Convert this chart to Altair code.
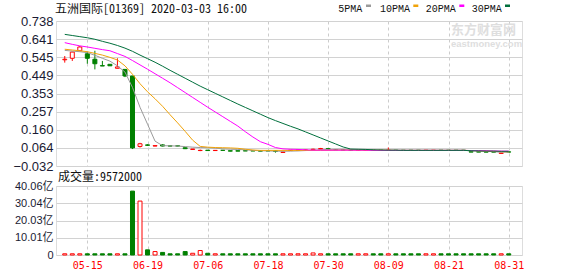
import altair as alt
import pandas as pd

# ---------------- data ----------------
title_text = "五洲国际[01369] 2020-03-03 16:00"
volume_text = "成交量:9572000"
ma_names = ["5PMA", "10PMA", "20PMA", "30PMA"]
ma_colors = ["#9a9a9a", "#f0a30a", "#ff00ff", "#006f3c"]

tick_idx = [3, 11, 19, 27, 35, 43, 51, 59]
tick_labels = ["05-15", "06-19", "07-06", "07-18", "07-30", "08-09", "08-21", "08-31"]
price_ticks = [-0.032, 0.064, 0.160, 0.257, 0.353, 0.449, 0.545, 0.641, 0.738]
vol_ticks = [0, 10.01, 20.03, 30.04, 40.06]

open_ = [0.532, 0.540, 0.580, 0.564, 0.535, 0.501, 0.508, 0.487, 0.481, 0.446,
         0.072, 0.080, 0.074, 0.080, 0.075, 0.075, 0.065, 0.056, 0.050, 0.052,
         0.050, 0.0515, 0.049, 0.049, 0.049, 0.049, 0.049, 0.049, 0.048, 0.040,
         0.050, 0.052, 0.052, 0.054, 0.057, 0.060, 0.055, 0.054, 0.053, 0.051,
         0.051, 0.052, 0.052, 0.051, 0.0515, 0.0515, 0.0515, 0.0515, 0.051, 0.051,
         0.0515, 0.0515, 0.0515, 0.0515, 0.044, 0.044, 0.043, 0.0425, 0.035, 0.043]
close = [0.535, 0.573, 0.600, 0.540, 0.511, 0.499, 0.500, 0.494, 0.446, 0.064,
         0.086, 0.078, 0.076, 0.074, 0.074, 0.074, 0.060, 0.058, 0.051, 0.050,
         0.051, 0.051, 0.047, 0.047, 0.048, 0.048, 0.047, 0.048, 0.046, 0.042,
         0.052, 0.0525, 0.053, 0.057, 0.061, 0.057, 0.054, 0.053, 0.052, 0.052,
         0.052, 0.051, 0.051, 0.052, 0.051, 0.051, 0.051, 0.051, 0.0515, 0.0515,
         0.051, 0.051, 0.051, 0.051, 0.042, 0.042, 0.042, 0.042, 0.037, 0.042]
high = [0.552, 0.575, 0.605, 0.575, 0.580, 0.526, 0.508, 0.540, 0.483, 0.446,
        0.091, 0.083, 0.079, 0.083, 0.076, 0.075, 0.066, 0.058, 0.055, 0.053,
        0.052, 0.0515, 0.049, 0.049, 0.049, 0.049, 0.049, 0.049, 0.048, 0.043,
        0.052, 0.053, 0.054, 0.060, 0.064, 0.064, 0.056, 0.054, 0.053, 0.052,
        0.052, 0.052, 0.052, 0.066, 0.0515, 0.0515, 0.0515, 0.0515, 0.0515, 0.0515,
        0.0515, 0.0515, 0.0515, 0.0515, 0.044, 0.044, 0.043, 0.0425, 0.037, 0.043]
low = [0.517, 0.526, 0.578, 0.511, 0.481, 0.499, 0.500, 0.487, 0.440, 0.058,
       0.066, 0.075, 0.073, 0.072, 0.073, 0.073, 0.058, 0.055, 0.047, 0.050,
       0.049, 0.051, 0.046, 0.047, 0.048, 0.048, 0.047, 0.048, 0.039, 0.040,
       0.049, 0.052, 0.052, 0.054, 0.057, 0.055, 0.053, 0.053, 0.052, 0.051,
       0.051, 0.051, 0.051, 0.051, 0.051, 0.051, 0.051, 0.051, 0.051, 0.051,
       0.051, 0.051, 0.051, 0.051, 0.042, 0.042, 0.042, 0.042, 0.035, 0.042]
volume = [0.7, 0.7, 0.7, 0.7, 0.7, 0.7, 0.7, 0.7, 0.7, 37.1,
          31.3, 3.0, 2.0, 1.5, 0.7, 0.7, 2.0, 1.0, 2.6, 1.0,
          0.7, 0.7, 0.7, 0.7, 0.7, 0.7, 0.7, 0.7, 0.7, 0.7,
          0.7, 0.7, 0.7, 1.2, 0.7, 0.7, 0.7, 0.7, 0.7, 0.7,
          0.7, 0.7, 0.7, 0.7, 0.7, 0.7, 0.7, 0.7, 0.7, 0.7,
          0.7, 0.7, 0.7, 0.7, 0.7, 0.7, 0.7, 0.7, 0.7, 0.7]

ma5 = [0.582, 0.578, 0.575, 0.570, 0.556, 0.540, 0.525, 0.500, 0.467, 0.385,
       0.280, 0.190, 0.100, 0.076, 0.075, 0.074, 0.071, 0.068, 0.066, 0.065,
       0.063, 0.059, 0.057, 0.056, 0.054, 0.051, 0.049, 0.048, 0.047, 0.046,
       0.047, 0.048, 0.050, 0.051, 0.054, 0.056, 0.057, 0.057, 0.056, 0.054,
       0.053, 0.052, 0.052, 0.052, 0.051, 0.051, 0.051, 0.051, 0.051, 0.051,
       0.051, 0.051, 0.051, 0.051, 0.049, 0.047, 0.046, 0.044, 0.041, 0.041]
ma10 = [0.588, 0.584, 0.580, 0.575, 0.566, 0.557, 0.545, 0.531, 0.500, 0.455,
        0.405, 0.362, 0.325, 0.285, 0.240, 0.197, 0.152, 0.105, 0.072, 0.068,
        0.066, 0.065, 0.064, 0.062, 0.057, 0.053, 0.051, 0.051, 0.051, 0.051,
        0.051, 0.051, 0.051, 0.051, 0.051, 0.051, 0.052, 0.052, 0.052, 0.052,
        0.052, 0.052, 0.052, 0.052, 0.051, 0.051, 0.051, 0.051, 0.051, 0.051,
        0.051, 0.051, 0.051, 0.051, 0.050, 0.049, 0.047, 0.046, 0.044, 0.044]
ma20 = [0.623, 0.614, 0.606, 0.600, 0.593, 0.586, 0.580, 0.565, 0.550, 0.528,
        0.505, 0.482, 0.458, 0.434, 0.410, 0.384, 0.358, 0.332, 0.306, 0.280,
        0.255, 0.230, 0.205, 0.180, 0.150, 0.122, 0.097, 0.083, 0.066, 0.059,
        0.057, 0.056, 0.054, 0.052, 0.052, 0.052, 0.052, 0.052, 0.052, 0.052,
        0.052, 0.051, 0.051, 0.051, 0.051, 0.051, 0.051, 0.051, 0.051, 0.051,
        0.051, 0.051, 0.051, 0.051, 0.050, 0.050, 0.049, 0.048, 0.047, 0.047]
ma30 = [0.667, 0.661, 0.655, 0.649, 0.641, 0.630, 0.620, 0.608, 0.594, 0.577,
        0.557, 0.538, 0.519, 0.498, 0.476, 0.455, 0.434, 0.413, 0.392, 0.373,
        0.354, 0.335, 0.316, 0.297, 0.279, 0.261, 0.243, 0.225, 0.209, 0.194,
        0.179, 0.165, 0.149, 0.133, 0.117, 0.101, 0.085, 0.069, 0.058, 0.057,
        0.056, 0.054, 0.053, 0.052, 0.052, 0.051, 0.051, 0.051, 0.051, 0.051,
        0.051, 0.051, 0.051, 0.051, 0.049, 0.048, 0.047, 0.047, 0.046, 0.046]

# ---------------- tables ----------------
idx = list(range(len(open_)))
df = pd.DataFrame({"idx": idx, "open": open_, "close": close, "high": high,
                   "low": low, "vol": volume})
df["dir"] = ["up" if c > o else "down" for o, c in zip(open_, close)]

ma_df = pd.concat([
    pd.DataFrame({"idx": idx, "ma": vals, "series": name})
    for name, vals in zip(ma_names, [ma5, ma10, ma20, ma30])
], ignore_index=True)

one = pd.DataFrame({"t": [title_text]})

# ---------------- scales / axes ----------------
W, H1, H2 = 466, 145, 69
CJK_MONO = "Noto Sans Mono CJK SC, DejaVu Sans Mono, Noto Sans CJK SC"
xs = alt.Scale(domain=[-0.5, 60.1], nice=False, zero=False)
ps = alt.Scale(domain=[-0.032, 0.738], nice=False, zero=False)
vs = alt.Scale(domain=[0, 40.06], nice=False, zero=True)
dir_stroke = alt.Scale(domain=["up", "down"], range=["#ff0000", "#008000"])
dir_fill = alt.Scale(domain=["up", "down"], range=["#ffffff", "#008000"])

top_x_axis = alt.Axis(values=tick_idx, labels=False, ticks=False, domain=False,
                      grid=True, gridColor="#cccccc", gridDash=[3, 3], title=None)
price_axis = alt.Axis(values=price_ticks, format=".3f", grid=True, gridColor="#d2d2d2",
                      ticks=False, domain=False, labelPadding=3,
                      labelFont="Liberation Sans", labelFontSize=13,
                      labelColor="#1a1a33", labelOverlap=False, title=None)
label_expr = ("[" + ",".join("'%s'" % s for s in tick_labels) + "][indexof(["
              + ",".join(str(v) for v in tick_idx) + "], datum.value)]")
bot_x_axis = alt.Axis(values=tick_idx, labelExpr=label_expr, ticks=False, domain=False,
                      grid=True, gridColor="#cccccc", gridDash=[3, 3], title=None,
                      labelColor="#ff0000", labelFont="DejaVu Sans Mono", labelFontSize=10,
                      labelPadding=5, labelFlush=False, labelOverlap=False)
vol_axis = alt.Axis(values=vol_ticks,
                    labelExpr="datum.value == 0 ? '0' : format(datum.value, '.2f') + '亿'",
                    grid=True, gridColor="#d2d2d2", ticks=False, domain=False,
                    labelPadding=3, labelFont="Liberation Sans, Noto Sans CJK SC",
                    labelFontSize=11, labelColor="#1a1a33", labelOverlap=False, title=None)

# ---------------- top panel ----------------
anchor = alt.Chart(one).mark_rule(strokeOpacity=0, strokeWidth=1).encode(
    x=alt.value(-55.5), x2=alt.value(-55.5), y=alt.value(-20.5), y2=alt.value(-20))

wicks = alt.Chart(df).mark_rule(strokeWidth=1).encode(
    x=alt.X("idx:Q", scale=xs, axis=top_x_axis),
    y=alt.Y("low:Q", scale=ps, axis=price_axis),
    y2="high:Q",
    stroke=alt.Stroke("dir:N", scale=dir_stroke, legend=None))

bodies = alt.Chart(df).mark_bar(size=4, strokeWidth=1, orient="vertical").encode(
    x=alt.X("idx:Q", scale=xs, axis=top_x_axis),
    y=alt.Y("open:Q", scale=ps, axis=price_axis),
    y2="close:Q",
    fill=alt.Fill("dir:N", scale=dir_fill, legend=None),
    stroke=alt.Stroke("dir:N", scale=dir_stroke, legend=None))

lines = alt.Chart(ma_df).mark_line(strokeWidth=1, clip=True).encode(
    x=alt.X("idx:Q", scale=xs, axis=top_x_axis),
    y=alt.Y("ma:Q", scale=ps, axis=price_axis),
    color=alt.Color("series:N", scale=alt.Scale(domain=ma_names, range=ma_colors),
                    legend=None),
    detail="series:N")

title_mark = alt.Chart(one).mark_text(align="left", baseline="middle", font=CJK_MONO,
                                      fontSize=12, color="#111111").encode(
    x=alt.value(-1), y=alt.value(-12.5), text="t:N")

legend_layers = []
text_x = [282.3, 324, 369.7, 415.7]
sw_x = [310, 357.3, 403.3, 449]
for name, col, tx, sx in zip(ma_names, ma_colors, text_x, sw_x):
    legend_layers.append(
        alt.Chart(pd.DataFrame({"t": [name]})).mark_text(
            align="left", baseline="middle", font="Liberation Mono", fontSize=10,
            color="#111111").encode(x=alt.value(tx), y=alt.value(-12.5), text="t:N"))
    legend_layers.append(
        alt.Chart(one).mark_rect(color=col).encode(
            x=alt.value(sx), x2=alt.value(sx + 5), y=alt.value(-16.5), y2=alt.value(-14)))

wm1 = alt.Chart(pd.DataFrame({"t": ["东方财富网"]})).mark_text(
    align="left", baseline="middle", font="Noto Sans CJK SC", fontSize=13,
    fontWeight="bold", color="#dedede").encode(x=alt.value(395), y=alt.value(9), text="t:N")
wm2 = alt.Chart(pd.DataFrame({"t": ["eastmoney.com"]})).mark_text(
    align="left", baseline="middle", font="Liberation Sans", fontSize=9.5,
    fontWeight="bold", color="#dedede").encode(x=alt.value(395), y=alt.value(22.5), text="t:N")

top = alt.layer(anchor, wm1, wm2, wicks, bodies, lines, title_mark,
                *legend_layers).properties(width=W, height=H1)

# ---------------- volume panel ----------------
vbars = alt.Chart(df).mark_bar(size=4, strokeWidth=1, orient="vertical").encode(
    x=alt.X("idx:Q", scale=xs, axis=bot_x_axis),
    y=alt.Y("vol:Q", scale=vs, axis=vol_axis),
    fill=alt.Fill("dir:N", scale=dir_fill, legend=None),
    stroke=alt.Stroke("dir:N", scale=dir_stroke, legend=None))

vtext = alt.Chart(pd.DataFrame({"t": [volume_text]})).mark_text(
    align="left", baseline="middle", font=CJK_MONO, fontSize=12, color="#111111").encode(
    x=alt.value(2), y=alt.value(-9.5), text="t:N")

bottom = alt.layer(vbars, vtext).properties(width=W, height=H2)

chart = alt.vconcat(top, bottom, spacing=20, bounds="flush").properties(
    padding=0
).configure_view(stroke="#999999", strokeWidth=1).configure(background="#ffffff")

chart.save("out.html", embed_options={"renderer": "svg", "actions": False})
